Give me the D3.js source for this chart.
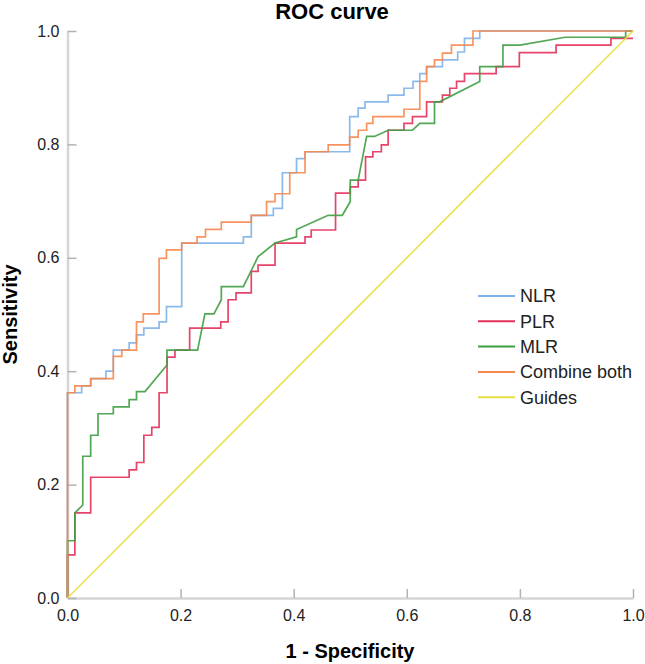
<!DOCTYPE html>
<html>
<head>
<meta charset="utf-8">
<script src="https://cdn.jsdelivr.net/npm/d3@7"></script>
<style>
  body { margin: 0; background: #fff; }
  svg { display: block; font-family: "Liberation Sans", Arial, sans-serif; }
</style>
</head>
<body>
<svg id="chart" width="645" height="664"></svg>
<script>
// ROC points [1 - specificity, sensitivity]
const nlr = [[0,0],[0,.362],[.025,.362],[.025,.374],[.041,.374],[.041,.387],[.068,.387],[.068,.400],
  [.081,.400],[.081,.437],[.109,.437],[.109,.450],[.122,.450],[.122,.464],[.135,.464],[.135,.476],
  [.162,.476],[.162,.487],[.175,.487],[.175,.514],[.202,.514],[.202,.626],[.311,.626],[.311,.637],
  [.325,.637],[.325,.675],[.364,.675],[.364,.687],[.380,.687],[.380,.750],[.405,.750],[.405,.775],
  [.420,.775],[.420,.787],[.499,.787],[.499,.849],[.514,.849],[.514,.864],[.526,.864],[.526,.875],
  [.567,.875],[.567,.887],[.595,.887],[.595,.899],[.611,.899],[.611,.911],[.623,.911],[.623,.925],
  [.635,.925],[.635,.937],[.663,.937],[.663,.949],[.690,.949],[.690,.963],[.702,.963],[.702,.987],
  [.729,.987],[.729,1],[1,1]];

const plr = [[0,0],[0,.076],[.013,.076],[.013,.150],[.041,.150],[.041,.213],[.109,.213],[.109,.226],
  [.122,.226],[.122,.239],[.135,.239],[.135,.287],[.149,.287],[.149,.301],[.162,.301],[.162,.362],
  [.176,.362],[.176,.425],[.190,.425],[.190,.437],[.216,.437],[.216,.476],[.271,.476],[.271,.487],
  [.284,.487],[.284,.526],[.298,.526],[.298,.538],[.325,.538],[.325,.576],[.337,.576],[.337,.587],
  [.367,.587],[.367,.626],[.420,.626],[.420,.637],[.431,.637],[.431,.649],[.474,.649],[.474,.714],
  [.500,.714],[.500,.725],[.514,.725],[.514,.737],[.527,.737],[.527,.778],[.540,.778],[.540,.787],
  [.555,.787],[.555,.799],[.567,.799],[.567,.825],[.595,.825],[.595,.837],[.610,.837],[.610,.849],
  [.635,.849],[.635,.875],[.663,.875],[.663,.887],[.676,.887],[.676,.899],[.688,.899],[.688,.911],
  [.702,.911],[.702,.925],[.758,.925],[.758,.937],[.799,.937],[.799,.962],[.864,.962],[.864,.975],
  [.961,.975],[.961,.987],[1,.987]];

const mlr = [[0,0],[0,.101],[.013,.101],[.013,.150],[.027,.164],[.027,.250],[.041,.250],[.041,.287],
  [.054,.287],[.054,.325],[.081,.325],[.081,.337],[.109,.337],[.109,.350],[.122,.350],[.122,.364],
  [.137,.364],[.176,.411],[.176,.437],[.230,.437],[.243,.501],[.259,.501],[.272,.526],[.272,.549],
  [.311,.549],[.337,.602],[.367,.626],[.405,.637],[.405,.650],[.461,.675],[.486,.675],[.500,.699],
  [.500,.737],[.514,.737],[.529,.814],[.543,.814],[.567,.825],[.610,.825],[.623,.837],[.649,.837],
  [.649,.875],[.658,.875],[.729,.911],[.729,.937],[.770,.937],[.770,.975],[.800,.975],[.880,.989],
  [.987,.989],[.987,1],[1,1]];

const combined = [[0,0],[0,.362],[.013,.362],[.013,.374],[.041,.374],[.041,.387],[.081,.387],[.081,.426],
  [.096,.426],[.096,.437],[.122,.437],[.122,.487],[.134,.487],[.134,.501],[.162,.501],[.162,.599],
  [.175,.599],[.175,.614],[.202,.614],[.202,.626],[.229,.626],[.229,.637],[.244,.637],[.244,.650],
  [.272,.650],[.272,.663],[.325,.663],[.325,.675],[.352,.675],[.352,.699],[.367,.699],[.367,.713],
  [.393,.713],[.393,.750],[.420,.750],[.420,.787],[.461,.787],[.461,.799],[.499,.799],[.499,.813],
  [.514,.813],[.514,.825],[.529,.825],[.529,.837],[.540,.837],[.540,.849],[.595,.849],[.595,.862],
  [.623,.862],[.623,.911],[.635,.911],[.635,.937],[.649,.937],[.649,.949],[.663,.949],[.663,.961],
  [.679,.961],[.679,.975],[.717,.975],[.717,1],[1,1]];

const guides = [[0,0],[1,1]];

const seriesNames = ['NLR', 'PLR', 'MLR', 'Combine both', 'Guides'];
const seriesColors = ['#7fb1ea', '#e3305a', '#3f9d42', '#f7884f', '#e8df45'];
const tickValues = [0, 0.2, 0.4, 0.6, 0.8, 1.0];

const svg = d3.select('#chart');

const plotLeft = 67.5, plotRight = 633, plotTop = 31, plotBottom = 598;

const x = d3.scaleLinear().domain([0, 1]).range([plotLeft, plotRight]);
const y = d3.scaleLinear().domain([0, 1]).range([plotBottom, plotTop]);

const fmt = d3.format('.1f');

// axes (ticks point into the plot)
const xAxis = svg.append('g')
  .attr('transform', `translate(0,${plotBottom})`)
  .call(d3.axisBottom(x).tickValues(tickValues).tickFormat(fmt)
    .tickSizeInner(-9).tickSizeOuter(0).tickPadding(12));

const yAxis = svg.append('g')
  .attr('transform', `translate(${plotLeft},0)`)
  .call(d3.axisLeft(y).tickValues(tickValues).tickFormat(fmt)
    .tickSizeInner(-9).tickSizeOuter(0).tickPadding(8));

[xAxis, yAxis].forEach((ax) => {
  ax.select('.domain').attr('stroke', '#d6d6d6').attr('stroke-width', 2.5);
  ax.selectAll('.tick line').attr('stroke', '#b3b3b3').attr('stroke-width', 1.5);
  ax.selectAll('.tick text')
    .attr('fill', '#222')
    .style('font-size', '16px');
});

// curves
const line = d3.line()
  .x(d => x(d[0]))
  .y(d => y(d[1]));

const allSeries = [nlr, plr, mlr, combined, guides];

svg.append('g')
  .selectAll('path')
  .data(allSeries)
  .join('path')
    .attr('d', line)
    .attr('fill', 'none')
    .attr('stroke', (d, i) => seriesColors[i])
    .attr('stroke-width', 1.7)
    .attr('stroke-opacity', 0.9);

// legend
const legend = svg.append('g')
  .attr('transform', 'translate(478,296)');

const item = legend.selectAll('g')
  .data(seriesNames)
  .join('g')
    .attr('transform', (d, i) => `translate(0,${i * 25.3})`);

item.append('line')
  .attr('x1', 0).attr('x2', 37)
  .attr('stroke', (d, i) => seriesColors[i])
  .attr('stroke-width', 2);

item.append('text')
  .attr('x', 42)
  .attr('dy', '0.35em')
  .attr('fill', '#222')
  .style('font-size', '18px')
  .text(d => d);

// titles
svg.append('text')
  .attr('x', 332).attr('y', 19)
  .attr('text-anchor', 'middle')
  .style('font-size', '22px').style('font-weight', 'bold')
  .text('ROC curve');

svg.append('text')
  .attr('x', 350).attr('y', 658)
  .attr('text-anchor', 'middle')
  .style('font-size', '20px').style('font-weight', 'bold')
  .text('1 - Specificity');

svg.append('text')
  .attr('transform', `translate(17,${(plotTop + plotBottom) / 2}) rotate(-90)`)
  .attr('text-anchor', 'middle')
  .style('font-size', '20px').style('font-weight', 'bold')
  .text('Sensitivity');
</script>
</body>
</html>
